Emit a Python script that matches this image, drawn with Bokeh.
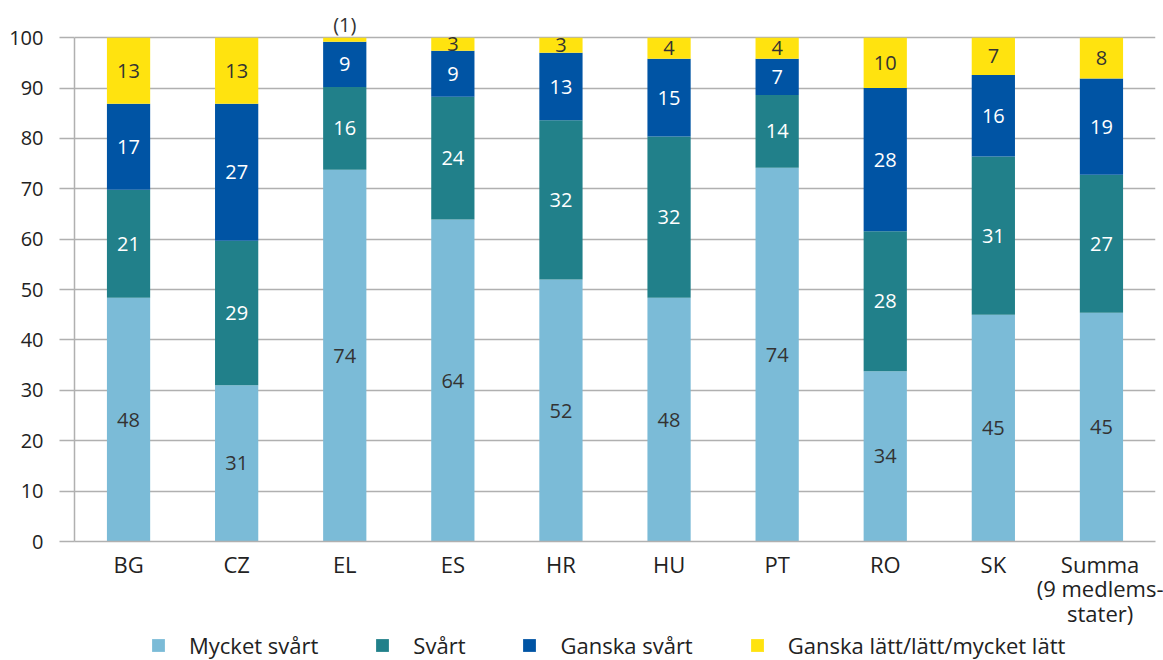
from bokeh.plotting import figure
from bokeh.layouts import column
from bokeh.models import ColumnDataSource, Legend, LegendItem, FixedTicker, Range1d
from bokeh.core.properties import value
from bokeh.embed import file_html
from bokeh.resources import INLINE

# ---- data ----
categories = ["BG", "CZ", "EL", "ES", "HR", "HU", "PT", "RO", "SK", "Summa\n(9 medlems-\nstater)"]
series_names = ["Mycket svårt", "Svårt", "Ganska svårt", "Ganska lätt/lätt/mycket lätt"]
mycket_svart = [48.4, 31.0, 73.8, 63.9, 52.0, 48.4, 74.2, 33.8, 45.0, 45.4]
svart        = [21.4, 28.7, 16.4, 24.4, 31.6, 32.0, 14.4, 27.8, 31.4, 27.4]
ganska_svart = [17.1, 27.2,  9.0,  9.1, 13.4, 15.4,  7.2, 28.4, 16.2, 19.1]
latt         = [13.1, 13.1,  0.8,  2.6,  3.0,  4.2,  4.2, 10.0,  7.4,  8.1]
y_ticks = [0, 10, 20, 30, 40, 50, 60, 70, 80, 90, 100]

colors = ["#7BBBD7", "#21808A", "#0054A4", "#FFE30F"]
label_colors = ["#333333", "#FFFFFF", "#FFFFFF", "#333333"]
FONT = "Open Sans"

series = [mycket_svart, svart, ganska_svart, latt]
keys = ["s0", "s1", "s2", "s3"]
data = {"cat": categories}
for k, s in zip(keys, series):
    data[k] = s
src = ColumnDataSource(data)

p = figure(x_range=categories, y_range=Range1d(0, 105), width=1163, height=630,
           output_backend="svg", toolbar_location=None,
           min_border_left=74, min_border_right=8, min_border_top=12, min_border_bottom=89)
p.outline_line_color = None
p.background_fill_color = "white"

renderers = p.vbar_stack(keys, x="cat", width=0.4, fill_color=colors, line_color=None, source=src)

# labels
bottom = [0.0] * len(categories)
for i, s in enumerate(series):
    mids, labs, top_y, top_labs, top_x = [], [], [], [], []
    for j, v in enumerate(s):
        r = int(v + 0.5) if v >= 0.5 else 1
        mids.append(bottom[j] + v / 2)
        if v < 1.5:
            labs.append("")
            top_x.append(categories[j])
            top_y.append(bottom[j] + v)
            top_labs.append("(%d)" % r)
        else:
            labs.append(str(r))
    p.text(x=categories, y=mids, text=labs, text_align="center", text_baseline="middle",
           text_font=value(FONT), text_font_size="20px", text_color=label_colors[i])
    if top_x:
        p.text(x=top_x, y=top_y, text=top_labs, text_align="center", text_baseline="bottom",
               y_offset=0, text_font=value(FONT), text_font_size="20px", text_color="#333333")
    bottom = [b + v for b, v in zip(bottom, s)]

GRID = "#B0B0B0"
p.yaxis.ticker = FixedTicker(ticks=y_ticks)
p.ygrid.ticker = FixedTicker(ticks=y_ticks)
p.yaxis.bounds = (0, 100)
p.yaxis.axis_line_color = GRID
p.yaxis.axis_line_width = 1.5
p.yaxis.major_tick_out = 15
p.yaxis.major_tick_in = 0
p.yaxis.major_tick_line_color = GRID
p.yaxis.major_tick_line_width = 1.5
p.yaxis.minor_tick_line_color = None
p.yaxis.major_label_standoff = 16
p.yaxis.major_label_text_font = FONT
p.yaxis.major_label_text_font_size = "20px"
p.yaxis.major_label_text_color = "#222222"

p.xaxis.axis_line_color = GRID
p.xaxis.axis_line_width = 1.5
p.xaxis.major_tick_line_color = None
p.xaxis.minor_tick_line_color = None
p.xaxis.major_tick_out = 0
p.xaxis.major_label_standoff = 7
p.xaxis.major_label_text_font = FONT
p.xaxis.major_label_text_font_size = "22px"
p.xaxis.major_label_text_line_height = 0.82
p.xaxis.major_label_text_color = "#222222"

p.ygrid.grid_line_color = GRID
p.ygrid.grid_line_width = 1.5
p.xgrid.grid_line_color = None

# legend strip
lg = figure(width=1163, height=30, x_range=Range1d(0, 1), y_range=Range1d(0, 1),
            output_backend="svg", toolbar_location=None,
            x_axis_location=None, y_axis_location=None,
            min_border_left=74, min_border_right=8, min_border_top=0, min_border_bottom=0)
lg.outline_line_color = None
lg.xgrid.grid_line_color = None
lg.ygrid.grid_line_color = None
nan = float("nan")
items = []
for n, c in zip(series_names, colors):
    r = lg.vbar(x=[nan], top=[nan], width=0.1, fill_color=c, line_color=None)
    items.append(LegendItem(label=n, renderers=[r]))
legend = Legend(items=items, orientation="horizontal", location="left",
                glyph_width=16, glyph_height=16, label_standoff=23, spacing=56,
                padding=0, margin=76, border_line_color=None, background_fill_alpha=0,
                label_height=16,
                label_text_font=FONT, label_text_font_size="22px", label_text_color="#222222")
lg.add_layout(legend, "center")

layout = column(p, lg, spacing=0)
open("out.html", "w").write(file_html(layout, INLINE))
